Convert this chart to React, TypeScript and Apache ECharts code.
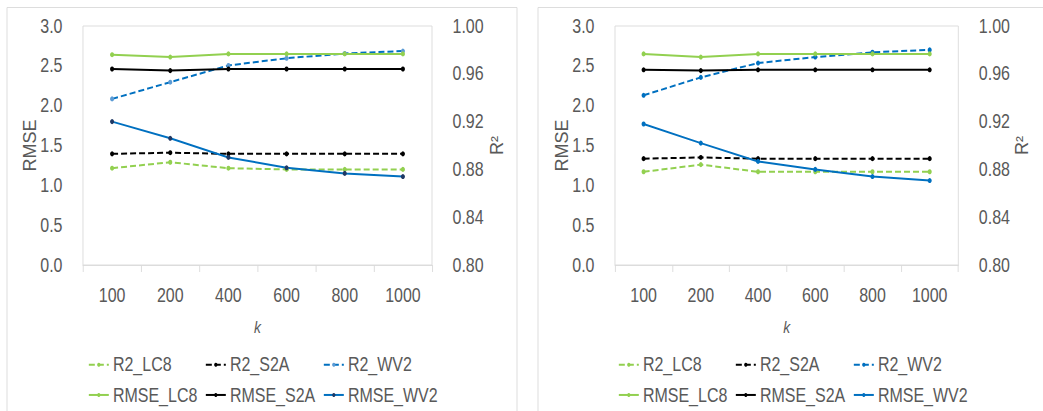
import React, { useEffect, useRef } from "react";
import * as echarts from "echarts";

// Number of neighbours k on the horizontal axis
const kValues = ["100", "200", "400", "600", "800", "1000"];

// Left panel
const r2Lc8A = [0.881, 0.886, 0.881, 0.880, 0.880, 0.880];
const r2S2aA = [0.893, 0.894, 0.893, 0.893, 0.893, 0.893];
const r2Wv2A = [0.939, 0.953, 0.967, 0.973, 0.977, 0.979];
const rmseLc8A = [2.64, 2.61, 2.65, 2.65, 2.65, 2.65];
const rmseS2aA = [2.46, 2.44, 2.46, 2.46, 2.46, 2.46];
const rmseWv2A = [1.80, 1.59, 1.35, 1.22, 1.15, 1.11];

// Right panel
const r2Lc8B = [0.878, 0.884, 0.878, 0.878, 0.878, 0.878];
const r2S2aB = [0.889, 0.890, 0.889, 0.889, 0.889, 0.889];
const r2Wv2B = [0.942, 0.957, 0.969, 0.974, 0.978, 0.980];
const rmseLc8B = [2.65, 2.61, 2.65, 2.65, 2.65, 2.65];
const rmseS2aB = [2.45, 2.44, 2.45, 2.45, 2.45, 2.45];
const rmseWv2B = [1.77, 1.53, 1.30, 1.20, 1.11, 1.06];

// Axis scales and titles
const rmseMin = 0;
const rmseMax = 3;
const rmseStep = 0.5;
const r2Min = 0.8;
const r2Max = 1.0;
const r2Step = 0.04;
const rmseTitle = "RMSE";
const r2Title = "R²";
const kTitle = "k";

// The chart is laid out on a wider canvas and compressed horizontally,
// which gives the narrow lettering of the figure.
const SX = 0.82;
const VIEW_W = 1043;
const H = 411;
const W = Math.round(VIEW_W / SX);
const px = (x: number) => x / SX;

const GREEN = "#92d050";
const BLACK = "#000000";
const BLUE = "#0070c0";
const LIGHT_BLUE = "#5b9bd5";
const NAVY = "#1f3864";
const TEXT = "#595959";
const FRAME = "#d9d9d9";
const FONT = '"Liberation Sans", Arial, Helvetica, sans-serif';
const DASH = [px(6), px(3)];
const LABEL_SIZE = 19.5;
const TITLE_SIZE = 18;

type SeriesDef = {
  name: string;
  data: number[];
  axis: "r2" | "rmse";
  color: string;
  marker: string;
};

function panelSeries(defs: SeriesDef[], panel: number) {
  return defs.map((d) => ({
    type: "line",
    name: d.name,
    data: d.data,
    xAxisIndex: panel,
    yAxisIndex: panel * 2 + (d.axis === "rmse" ? 0 : 1),
    symbol: "circle",
    symbolSize: 5,
    showSymbol: true,
    lineStyle: {
      color: d.color,
      width: 2,
      type: d.axis === "r2" ? DASH : "solid",
    },
    itemStyle: { color: d.marker, borderWidth: 0 },
    emphasis: { disabled: true },
  }));
}

const seriesA: SeriesDef[] = [
  { name: "R2_LC8", data: r2Lc8A, axis: "r2", color: GREEN, marker: GREEN },
  { name: "R2_S2A", data: r2S2aA, axis: "r2", color: BLACK, marker: BLACK },
  { name: "R2_WV2", data: r2Wv2A, axis: "r2", color: BLUE, marker: LIGHT_BLUE },
  { name: "RMSE_LC8", data: rmseLc8A, axis: "rmse", color: GREEN, marker: GREEN },
  { name: "RMSE_S2A", data: rmseS2aA, axis: "rmse", color: BLACK, marker: BLACK },
  { name: "RMSE_WV2", data: rmseWv2A, axis: "rmse", color: BLUE, marker: NAVY },
];

const seriesB: SeriesDef[] = [
  { name: "R2_LC8", data: r2Lc8B, axis: "r2", color: GREEN, marker: GREEN },
  { name: "R2_S2A", data: r2S2aB, axis: "r2", color: BLACK, marker: BLACK },
  { name: "R2_WV2", data: r2Wv2B, axis: "r2", color: BLUE, marker: BLUE },
  { name: "RMSE_LC8", data: rmseLc8B, axis: "rmse", color: GREEN, marker: GREEN },
  { name: "RMSE_S2A", data: rmseS2aB, axis: "rmse", color: BLACK, marker: BLACK },
  { name: "RMSE_WV2", data: rmseWv2B, axis: "rmse", color: BLUE, marker: BLUE },
];

// Plot areas, panel frames and vertical axis titles, in on-screen pixels
const panels = [
  {
    left: 83, right: 432, legendCols: [88, 205, 323], frameX: 7, frameW: 510,
    rmseTitleX: 30, r2TitleX: 497, defs: seriesA,
  },
  {
    left: 615, right: 958.3, legendCols: [618, 735, 853], frameX: 538, frameW: 600,
    rmseTitleX: 561.5, r2TitleX: 1021.5, defs: seriesB,
  },
];
const PLOT_TOP = 26;
const PLOT_BOTTOM = 265;
const LEGEND_ROWS = [364.5, 394.7];

function xAxisFor(i: number) {
  return {
    type: "category",
    gridIndex: i,
    data: kValues,
    boundaryGap: true,
    axisLine: { show: true, lineStyle: { color: FRAME, width: 1 } },
    axisTick: { show: true, length: 7, alignWithLabel: false, lineStyle: { color: FRAME } },
    axisLabel: { interval: 0, color: TEXT, fontSize: LABEL_SIZE, fontFamily: FONT, margin: 20 },
    splitLine: { show: false },
    name: kTitle,
    nameLocation: "middle",
    nameGap: 53,
    nameTextStyle: { color: TEXT, fontSize: 17, fontStyle: "italic", fontFamily: FONT },
  };
}

function yAxesFor(i: number) {
  const common = {
    type: "value",
    gridIndex: i,
    axisLine: { show: false },
    axisTick: { show: false },
    splitLine: { show: false },
  };
  return [
    {
      ...common,
      position: "left",
      min: rmseMin,
      max: rmseMax,
      interval: rmseStep,
      axisLabel: {
        color: TEXT,
        fontSize: LABEL_SIZE,
        fontFamily: FONT,
        margin: px(20.5),
        formatter: (v: number) => v.toFixed(1),
      },
    },
    {
      ...common,
      position: "right",
      min: r2Min,
      max: r2Max,
      interval: r2Step,
      axisLabel: {
        color: TEXT,
        fontSize: LABEL_SIZE,
        fontFamily: FONT,
        margin: px(20.5),
        formatter: (v: number) => v.toFixed(2),
      },
    },
  ];
}

function legendsFor(i: number) {
  const p = panels[i];
  return p.defs.map((d, idx) => {
    const col = idx % 3;
    const row = Math.floor(idx / 3);
    return {
      data: [
        {
          name: d.name,
          itemStyle: { color: d.marker },
          lineStyle: { color: d.color, width: 2, type: d.axis === "r2" ? DASH : "solid" },
        },
      ],
      left: px(p.legendCols[col]),
      top: LEGEND_ROWS[row] - LABEL_SIZE / 2,
      padding: 0,
      itemGap: 0,
      itemWidth: px(20),
      itemHeight: 5,
      textStyle: { color: TEXT, fontSize: LABEL_SIZE, fontFamily: FONT },
    };
  });
}

// Rotated axis titles, stretched back so they keep their normal proportions
function verticalTitle(text: string, x: number) {
  return {
    type: "text",
    silent: true,
    x: px(x),
    y: (PLOT_TOP + PLOT_BOTTOM) / 2,
    rotation: Math.PI / 2,
    scaleY: 1 / SX,
    style: {
      text,
      fill: TEXT,
      fontSize: TITLE_SIZE,
      fontFamily: FONT,
      align: "center",
      verticalAlign: "middle",
    },
  };
}

export default function App() {
  const ref = useRef<HTMLDivElement>(null);

  useEffect(() => {
    if (!ref.current) return;
    const chart = echarts.init(ref.current, undefined, { renderer: "svg", width: W, height: H });

    const option = {
      animation: false,
      backgroundColor: "#ffffff",
      textStyle: { fontFamily: FONT },
      grid: panels.map((p) => ({
        left: px(p.left),
        top: PLOT_TOP,
        width: px(p.right) - px(p.left),
        height: PLOT_BOTTOM - PLOT_TOP,
        show: true,
        borderColor: FRAME,
        borderWidth: 1,
        backgroundColor: "transparent",
      })),
      xAxis: panels.map((_, i) => xAxisFor(i)),
      yAxis: panels.flatMap((_, i) => yAxesFor(i)),
      legend: panels.flatMap((_, i) => legendsFor(i)),
      graphic: panels.flatMap((p) => [
        {
          type: "rect",
          silent: true,
          z: -10,
          shape: { x: px(p.frameX), y: 7.5, width: px(p.frameW), height: 440 },
          style: { fill: "none", stroke: FRAME, lineWidth: 1 },
        },
        verticalTitle(rmseTitle, p.rmseTitleX),
        verticalTitle(r2Title, p.r2TitleX),
      ]),
      series: panels.flatMap((p, i) => panelSeries(p.defs, i)),
    };

    chart.setOption(option as any);
    return () => chart.dispose();
  }, []);

  return (
    <div
      style={{
        position: "fixed",
        left: 0,
        top: 0,
        width: VIEW_W,
        height: H,
        overflow: "hidden",
        background: "#ffffff",
      }}
    >
      <div
        ref={ref}
        style={{
          width: W,
          height: H,
          transform: `scaleX(${SX})`,
          transformOrigin: "0 0",
        }}
      />
    </div>
  );
}
